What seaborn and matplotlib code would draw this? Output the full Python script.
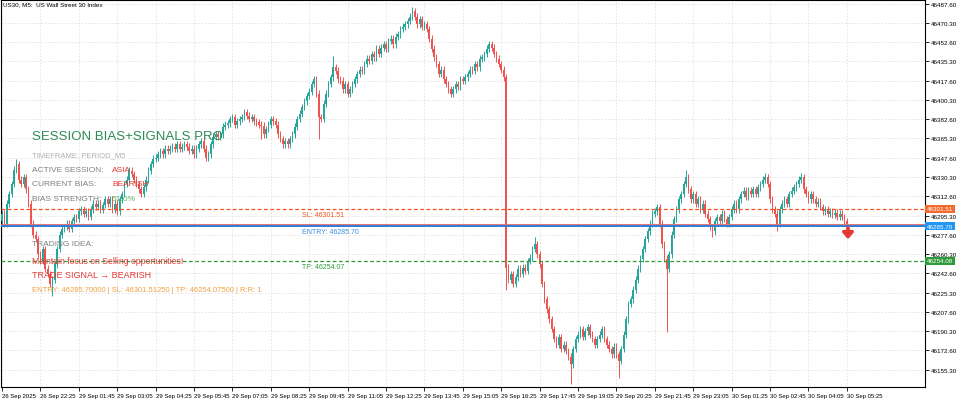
import numpy as np
import pandas as pd
import matplotlib
matplotlib.use('Agg')
import matplotlib.pyplot as plt
import seaborn as sns

sns.set_theme(style='white')
plt.rcParams['font.family'] = ['Liberation Sans', 'DejaVu Sans']

# ==========================================
# data (US30, M5)
# ==========================================
first_open = 46290.0
closes = [
    46297, 46288, 46306, 46315, 46324, 46337, 46342, 46328, 46324, 46330,
    46319, 46306, 46288, 46278, 46274, 46260, 46254, 46265, 46247, 46242,
    46233, 46237, 46251, 46265, 46278, 46283, 46285, 46288, 46283, 46290,
    46294, 46292, 46299, 46301, 46297, 46299, 46294, 46301, 46306, 46303,
    46306, 46301, 46305, 46310, 46306, 46310, 46301, 46306, 46299, 46310,
    46315, 46324, 46328, 46336, 46333, 46328, 46324, 46319, 46315, 46321,
    46328, 46336, 46342, 46347, 46348, 46351, 46354, 46351, 46356, 46354,
    46356, 46358, 46356, 46360, 46356, 46358, 46360, 46358, 46354, 46356,
    46351, 46356, 46360, 46363, 46356, 46348, 46351, 46360, 46367, 46369,
    46367, 46369, 46376, 46378, 46379, 46383, 46385, 46378, 46381, 46383,
    46385, 46389, 46386, 46383, 46385, 46381, 46380, 46378, 46377, 46369,
    46374, 46378, 46383, 46381, 46378, 46369, 46365, 46360, 46363, 46360,
    46365, 46369, 46376, 46383, 46388, 46394, 46399, 46404, 46408, 46415,
    46419, 46406, 46385, 46383, 46397, 46406, 46415, 46421, 46430, 46427,
    46419, 46418, 46410, 46415, 46406, 46410, 46415, 46419, 46424, 46428,
    46427, 46433, 46438, 46436, 46442, 46439, 46447, 46442, 46448, 46451,
    46447, 46454, 46456, 46451, 46458, 46460, 46465, 46467, 46469, 46472,
    46476, 46481, 46476, 46469, 46474, 46467, 46469, 46465, 46456, 46447,
    46439, 46433, 46424, 46428, 46419, 46415, 46410, 46406, 46410, 46415,
    46412, 46419, 46418, 46421, 46424, 46428, 46427, 46433, 46430, 46438,
    46439, 46442, 46447, 46451, 46448, 46442, 46438, 46433, 46428, 46421,
    46248, 46237, 46242, 46233, 46239, 46247, 46242, 46248, 46245, 46254,
    46257, 46265, 46269, 46260, 46251, 46233, 46219, 46210, 46201, 46192,
    46183, 46178, 46185, 46174, 46178, 46172, 46167, 46160, 46174, 46183,
    46187, 46192, 46185, 46190, 46194, 46187, 46183, 46178, 46183, 46187,
    46192, 46183, 46178, 46174, 46169, 46176, 46169, 46163, 46174, 46187,
    46201, 46215, 46219, 46228, 46237, 46247, 46256, 46265, 46274, 46281,
    46288, 46297, 46299, 46303, 46288, 46269, 46256, 46247, 46260, 46278,
    46292, 46301, 46310, 46315, 46324, 46330, 46319, 46310, 46315, 46306,
    46310, 46301, 46306, 46297, 46292, 46285, 46281, 46290, 46294, 46290,
    46297, 46292, 46288, 46294, 46301, 46306, 46301, 46310, 46315, 46318,
    46312, 46318, 46315, 46319, 46315, 46321, 46324, 46328, 46330, 46324,
    46310, 46301, 46297, 46288, 46301, 46306, 46310, 46306, 46315, 46318,
    46321, 46324, 46328, 46330, 46319, 46315, 46310, 46315, 46310, 46306,
    46308, 46303, 46299, 46301, 46297, 46299, 46296, 46298, 46294, 46297,
    46294, 46290, 46288,
]
# long wicks visible on the chart (bar index -> price)
high_spikes = {6: 46347, 138: 46440, 171: 46485, 222: 46276, 273: 46306,
               285: 46337, 318: 46334, 333: 46334}
low_spikes = {21: 46222, 108: 46365, 132: 46365, 210: 46228, 237: 46142,
              257: 46148, 277: 46189, 296: 46276, 323: 46281}

time_labels = ['26 Sep 2025', '26 Sep 22:25', '29 Sep 01:45', '29 Sep 03:05',
               '29 Sep 04:25', '29 Sep 05:45', '29 Sep 07:05', '29 Sep 08:25',
               '29 Sep 09:45', '29 Sep 11:05', '29 Sep 12:25', '29 Sep 13:45',
               '29 Sep 15:05', '29 Sep 16:25', '29 Sep 17:45', '29 Sep 19:05',
               '29 Sep 20:25', '29 Sep 21:45', '29 Sep 23:05', '30 Sep 01:25',
               '30 Sep 02:45', '30 Sep 04:05', '30 Sep 05:25']
price_ticks = [46487.60, 46470.30, 46452.60, 46435.30, 46417.60, 46400.30,
               46382.60, 46365.30, 46347.60, 46330.30, 46312.60, 46295.30,
               46277.60, 46260.30, 46242.60, 46225.30, 46207.60, 46190.30,
               46172.60, 46155.30]

sl_price = 46301.51
entry_price = 46285.70
tp_price = 46254.07
tp_box_price = 46254.08

BULL = '#26a69a'
BEAR = '#ef5350'
WICK = 3.0

df = pd.DataFrame({'close': closes})
df['open'] = [first_open] + closes[:-1]
df['bar'] = np.arange(len(df))
df['high'] = df[['open', 'close']].max(axis=1) + WICK
df['low'] = df[['open', 'close']].min(axis=1) - WICK
for b, v in high_spikes.items():
    df.loc[b, 'high'] = max(df.loc[b, 'high'], v)
for b, v in low_spikes.items():
    df.loc[b, 'low'] = min(df.loc[b, 'low'], v)
df['color'] = np.where(df['close'] >= df['open'], BULL, BEAR)
body = (df['close'] - df['open']).abs().clip(lower=0.6)

# ==========================================
# figure
# ==========================================
fig = plt.figure(figsize=(9.6, 4.02), dpi=100, facecolor='white')
ax = fig.add_axes([1 / 960, 14 / 402, 924 / 960, 387 / 402])

ax.vlines(df['bar'], df['low'], df['high'], colors=df['color'], lw=0.7, zorder=2)
ax.bar(df['bar'], body, bottom=df[['open', 'close']].min(axis=1), width=0.62,
       color=df['color'], linewidth=0, zorder=3)

# trade levels
ax.axhline(sl_price, color='#f4511e', lw=0.9, ls=(0, (3, 2)), zorder=4)
ax.axhline(tp_price, color='#2e9b3a', lw=0.9, ls=(0, (3, 2)), zorder=4)
ax.axhline(entry_price, color='#2f7bd8', lw=1.4, zorder=4)
ax.axhline(df['close'].iloc[-1], color='#e57373', lw=0.7, zorder=4)

ax.annotate('SL: %.2f' % sl_price, xy=(125, sl_price), xytext=(0, -1.5),
            textcoords='offset points', va='top', ha='left', fontsize=5, color='#f4511e')
ax.annotate('ENTRY: %.2f' % entry_price, xy=(125, entry_price), xytext=(0, -1.5),
            textcoords='offset points', va='top', ha='left', fontsize=5, color='#3d8fe0')
ax.annotate('TP: %.2f' % tp_price, xy=(125, tp_price), xytext=(0, -1.5),
            textcoords='offset points', va='top', ha='left', fontsize=5, color='#2e9b3a')

# signal arrow under the last bar
ax.annotate('', xy=(df['bar'].iloc[-1] + 0.5, entry_price - 12),
            xytext=(df['bar'].iloc[-1] + 0.5, entry_price - 1.5),
            arrowprops=dict(arrowstyle='-|>,head_width=0.3,head_length=0.35',
                            color='#e53935', lw=2.6, mutation_scale=10,
                            shrinkA=0, shrinkB=0), zorder=6)

# price boxes on the right axis
for p, txt, c in [(sl_price, '%.2f' % sl_price, '#f26a2e'),
                  (entry_price, '%.2f' % entry_price, '#2196f3'),
                  (tp_price, '%.2f' % tp_box_price, '#2e9b3a')]:
    ax.text(1.002, p, txt, transform=ax.get_yaxis_transform(), fontsize=4.5,
            color='white', va='center', ha='left', clip_on=False, zorder=10,
            bbox=dict(boxstyle='square,pad=0.25', fc=c, ec='none'))

ax.set_xlim(-0.4, 384.6)
ax.set_ylim(46139.4, 46491.2)

ax.set_xticks(np.arange(0, len(df), 16))
ax.set_xticklabels(time_labels, ha='left')
ax.yaxis.tick_right()
ax.set_yticks(price_ticks)
ax.set_yticklabels(['%.2f' % v for v in price_ticks])
ax.tick_params(axis='x', length=3, width=0.6, labelsize=4.3, pad=1.5,
               colors='black', bottom=True)
ax.tick_params(axis='y', length=3, width=0.6, labelsize=4.5, pad=1,
               colors='black', right=True)
ax.grid(True, color='#e2e2e2', ls=(0, (2, 2)), lw=0.6)
ax.set_axisbelow(True)
for s in ax.spines.values():
    s.set_color('black')
    s.set_linewidth(0.8)

# ==========================================
# indicator overlay text
# ==========================================
def px(x, y):
    return x / 960, 1 - y / 402

fig.text(*px(3, 5), 'US30, M5:  US Wall Street 30 Index', fontsize=4.5,
         va='center', color='black')
fig.text(*px(32, 137), 'SESSION BIAS+SIGNALS PRO', fontsize=9.5, va='center',
         color='#2e8b57')
fig.text(*px(32, 156), 'TIMEFRAME: PERIOD_M5', fontsize=5.5, va='center', color='#b0b0b0')
rows = [('ACTIVE SESSION:', 'ASIA', '#e53935', 171),
        ('CURRENT BIAS:', 'BEARISH', '#e53935', 185),
        ('BIAS STRENGTH:', '51.0%', '#5cb85c', 199.5)]
for lab, val, c, y in rows:
    fig.text(*px(32, y), lab, fontsize=6, va='center', color='#808080')
    fig.text(*px(112, y), val, fontsize=6, va='center', color=c)
fig.text(*px(32, 245), 'TRADING IDEA:', fontsize=6, va='center', color='#808080')
fig.text(*px(32, 261), 'Maintain focus on Selling opportunities!', fontsize=6.2,
         va='center', color='#e53935')
fig.text(*px(32, 275), 'TRADE SIGNAL \u2192 BEARISH', fontsize=6.5, va='center',
         color='#e53935')
fig.text(*px(32, 291), 'ENTRY: 46285.70000 | SL: 46301.51250 | TP: 46254.07500 | R:R: 1',
         fontsize=5.5, va='center', color='#f0a040')

fig.savefig('out.png', dpi=100, facecolor='white')
